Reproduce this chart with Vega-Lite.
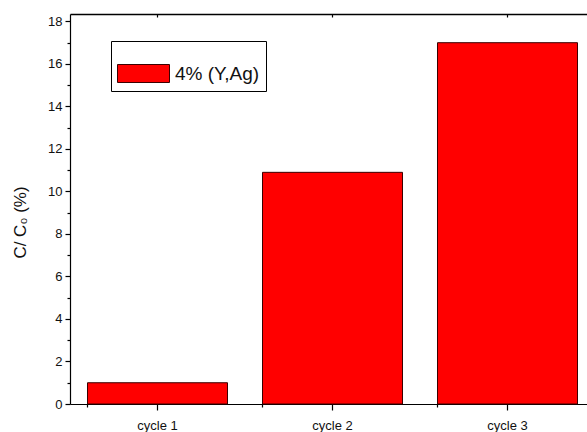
{
  "$schema": "https://vega.github.io/schema/vega-lite/v6.json",
  "width": 517,
  "height": 390,
  "autosize": {"type": "none"},
  "padding": {"left": 70, "top": 14, "right": 0, "bottom": 28},
  "background": "white",
  "config": {
    "view": {"stroke": null},
    "font": "Liberation Sans",
    "axis": {
      "labelFont": "Liberation Sans",
      "titleFont": "Liberation Sans",
      "labelColor": "#111",
      "titleColor": "#111",
      "domainColor": "black",
      "tickColor": "black",
      "grid": false,
      "labelFontSize": 13,
      "domainWidth": 1.2,
      "tickWidth": 1.2
    }
  },
  "data": {
    "values": [
      {"cycle": "cycle 1", "value": 1.0, "series": "4% (Y,Ag)"},
      {"cycle": "cycle 2", "value": 10.9, "series": "4% (Y,Ag)"},
      {"cycle": "cycle 3", "value": 17.0, "series": "4% (Y,Ag)"}
    ]
  },
  "layer": [
    {
      "mark": {"type": "bar", "stroke": "#3a0000", "strokeWidth": 1},
      "encoding": {
        "x": {
          "field": "cycle", "type": "nominal",
          "scale": {"range": [0, 525], "paddingInner": 0.2, "paddingOuter": 0.1},
          "axis": {"orient": "bottom", "title": null, "labelAngle": 0, "tickSize": 6, "labelPadding": 9}
        },
        "y": {
          "field": "value", "type": "quantitative",
          "scale": {"domain": [0, 18.35], "nice": false, "zero": true},
          "axis": {
            "orient": "left",
            "values": [0, 2, 4, 6, 8, 10, 12, 14, 16, 18],
            "tickSize": 5,
            "labelPadding": 3,
            "title": "C/ C₀ (%)",
            "titleFontSize": 17,
            "titleFontWeight": "normal",
            "titleX": -50,
            "titleY": 208,
            "titleAngle": -90,
            "titleBaseline": "middle"
          }
        },
        "fill": {
          "field": "series", "type": "nominal",
          "scale": {"range": ["#ff0000"]},
          "legend": {
            "title": null,
            "orient": "none",
            "legendX": 41,
            "legendY": 27,
            "strokeColor": "black",
            "fillColor": "white",
            "padding": 6,
            "symbolType": "M-1,-0.346L1,-0.346L1,0.346L-1,0.346Z",
            "symbolSize": 2704,
            "symbolStrokeColor": "#3a0000",
            "symbolStrokeWidth": 1,
            "symbolOpacity": 1,
            "labelFontSize": 19,
            "labelFont": "Liberation Sans",
            "labelColor": "#111",
            "labelOffset": 5
          }
        }
      }
    },
    {
      "mark": {"type": "bar", "opacity": 0},
      "encoding": {
        "x": {
          "field": "cycle", "type": "nominal",
          "axis": {"orient": "top", "title": null, "labels": false, "tickSize": -3, "domainWidth": 1.5}
        },
        "y": {
          "field": "value", "type": "quantitative",
          "axis": {"orient": "left", "title": null, "labels": false, "domain": false, "tickSize": 3, "values": [1, 3, 5, 7, 9, 11, 13, 15, 17]}
        }
      }
    },
    {
      "mark": {"type": "bar", "opacity": 0},
      "encoding": {
        "x": {
          "field": "cycle", "type": "nominal",
          "axis": {"orient": "bottom", "title": null, "labels": false, "domain": false, "tickSize": 3, "bandPosition": 0}
        },
        "y": {"field": "value", "type": "quantitative", "axis": null}
      }
    }
  ],
  "resolve": {"axis": {"x": "independent", "y": "independent"}}
}
